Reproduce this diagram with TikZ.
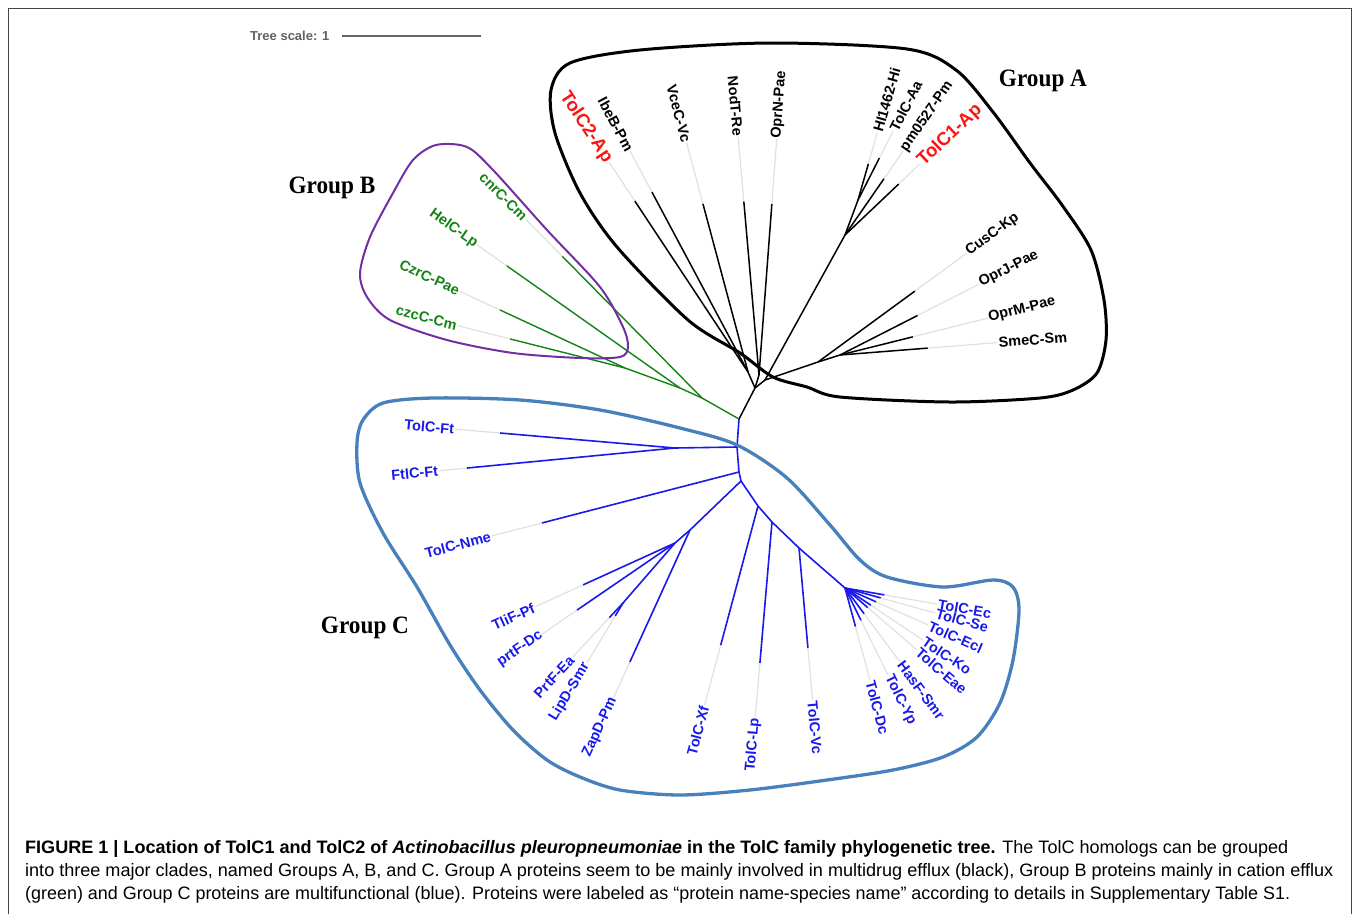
\documentclass[tikz,border=0pt]{standalone}
\usepackage{fontspec}
\setmainfont{Liberation Sans}
\newfontfamily\grpfont{Liberation Serif}
\usetikzlibrary{calc}
\definecolor{bl}{RGB}{25,25,235}
\definecolor{gr}{RGB}{20,130,20}
\definecolor{rd}{RGB}{250,20,20}
\definecolor{pu}{RGB}{115,45,165}
\definecolor{sb}{RGB}{72,128,188}
\definecolor{fr}{RGB}{70,70,70}
\newcommand\leaf[8]{%
  \coordinate (#1-b) at ($(#2)+(#3:#4pt)$);
  \coordinate (#1-t) at ($(#2)+(#3:#5pt)$);
  \draw[ext] (#1-b) -- (#1-t);
  \draw[#6] (#2) -- (#1-b);
  \pgfmathsetmacro\lfang{mod(#3+720,360)}%
  \ifdim\lfang pt>90pt
    \ifdim\lfang pt<270pt
      \pgfmathsetmacro\lfrot{\lfang-180}%
      \node[#7,rotate=\lfrot,anchor=east] (#1) at (#1-t) {#8};
    \else
      \node[#7,rotate=\lfang,anchor=west] (#1) at (#1-t) {#8};
    \fi
  \else
    \node[#7,rotate=\lfang,anchor=west] (#1) at (#1-t) {#8};
  \fi
}
\begin{document}
\begin{tikzpicture}[x=1pt,y=-1pt,
  bk/.style={draw=black,line width=1.5pt},
  bb/.style={draw=bl,line width=1.6pt},
  gb/.style={draw=gr,line width=1.4pt},
  ext/.style={draw=black!12,line width=1.2pt},
  lab/.style={font=\bfseries\fontsize{14.5}{16}\selectfont,inner sep=1pt},
  labk/.style={lab,text=black},
  labb/.style={lab,text=bl},
  labg/.style={lab,text=gr},
  labr/.style={font=\bfseries\fontsize{18.5}{20}\selectfont,inner sep=1pt,text=rd},
  grp/.style={font=\grpfont\bfseries\fontsize{25}{28}\selectfont,inner sep=0pt,anchor=base},
  captxt/.style={font=\fontsize{18}{22}\selectfont,inner sep=0pt,anchor=base west},
  hull/.style={line width=3pt}]
\useasboundingbox (0,0) rectangle (1358,914);
% frame
\draw[fr,line width=1.5pt] (8.5,914) -- (8.5,8.5) -- (1351.5,8.5) -- (1351.5,914);
% tree scale
\node[font=\bfseries\fontsize{13}{15}\selectfont,text=black!62,inner sep=0pt,anchor=west] (ts) at (250,36) {Tree scale: 1};
\coordinate (ts1) at (342,36); \coordinate (ts2) at (481,36);
\draw[draw=black!60,line width=1.4pt] (ts1) -- (ts2);
% internal nodes
\coordinate (R) at (739,419);
\coordinate (A0) at (755,388); \coordinate (P1) at (748,372); \coordinate (P2) at (759,375);
\coordinate (A1) at (765,380); \coordinate (Q) at (845,235); \coordinate (Q2) at (858,200);
\coordinate (S) at (818,362); \coordinate (S2) at (840,355);
\coordinate (B2) at (702,398); \coordinate (B3) at (680,388); \coordinate (B4) at (625,368);
\coordinate (C0) at (737,447); \coordinate (C1) at (675,448); \coordinate (C2) at (739,472);
\coordinate (C3) at (741,481); \coordinate (D0) at (690,530); \coordinate (D1) at (675,543);
\coordinate (D2) at (623,603); \coordinate (F0) at (758,506); \coordinate (F1) at (772,522);
\coordinate (C5) at (799,548); \coordinate (E0) at (845,588);
% internal edges
\draw[bk] (R) -- (A0); \draw[bk] (A0) -- (P1); \draw[bk] (A0) -- (P2); \draw[bk] (A0) -- (A1);
\draw[bk] (A1) -- (Q); \draw[bk] (Q) -- (Q2); \draw[bk] (A1) -- (S); \draw[bk] (S) -- (S2);
\draw[gb] (R) -- (B2); \draw[gb] (B2) -- (B3); \draw[gb] (B3) -- (B4);
\draw[bb] (R) -- (C0); \draw[bb] (C0) -- (C1); \draw[bb] (C0) -- (C2); \draw[bb] (C2) -- (C3);
\draw[bb] (C3) -- (D0); \draw[bb] (D0) -- (D1); \draw[bb] (D1) -- (D2);
\draw[bb] (C3) -- (F0); \draw[bb] (F0) -- (F1); \draw[bb] (F1) -- (C5); \draw[bb] (C5) -- (E0);
% Group A leaves
\leaf{a1}{P1}{123.5}{205}{252}{bk}{labr}{TolC2-Ap}
\leaf{a2}{P1}{118.1}{204}{250}{bk}{labk}{IbeB-Pm}
\leaf{a3}{P1}{105}{174}{237}{bk}{labk}{VceC-Vc}
\leaf{a4}{P2}{95}{174}{239}{bk}{labk}{NodT-Re}
\leaf{a5}{P2}{85.7}{171.5}{236.5}{bk}{labk}{OprN-Pae}
\leaf{a6}{Q2}{74}{37.6}{70}{bk}{labk}{HI1462-Hi}
\leaf{a7}{Q2}{63}{47}{77}{bk}{labk}{TolC-Aa}
\leaf{a8}{Q}{55.3}{68.5}{102}{bk}{labk}{pm0527-Pm}
\leaf{a9}{Q}{43.5}{74}{103}{bk}{labr}{TolC1-Ap}
\leaf{a10}{S}{36.2}{120}{184}{bk}{labk}{CusC-Kp}
\leaf{a11}{S2}{27}{87}{156}{bk}{labk}{OprJ-Pae}
\leaf{a12}{S2}{14}{75}{152}{bk}{labk}{OprM-Pae}
\leaf{a13}{S2}{4.5}{88}{158}{bk}{labk}{SmeC-Sm}
% Group B leaves
\leaf{b1}{B2}{134.6}{199}{251}{gb}{labg}{cnrC-Cm}
\leaf{b2}{B3}{144.8}{212}{248}{gb}{labg}{HelC-Lp}
\leaf{b3}{B4}{155.1}{138}{182}{gb}{labg}{CzrC-Pae}
\leaf{b4}{B4}{165.8}{118.6}{172.6}{gb}{labg}{czcC-Cm}
% Group C leaves
\leaf{c1}{C1}{175.1}{175.6}{220.6}{bb}{labb}{TolC-Ft}
\leaf{c2}{C1}{185.5}{209}{237}{bb}{labb}{FtlC-Ft}
\leaf{c3}{C2}{194.5}{203.5}{255.5}{bb}{labb}{TolC-Nme}
\leaf{c4}{D1}{204.5}{101}{154}{bb}{labb}{TliF-Pf}
\leaf{c5}{D1}{214.4}{118.7}{160.7}{bb}{labb}{prtF-Dc}
\leaf{c6}{D2}{227}{20}{74}{bb}{labb}{PrtF-Ea}
\leaf{c7}{D2}{239}{15}{70}{bb}{labb}{LipD-Smr}
\leaf{c8}{D0}{245.5}{145}{184}{bb}{labb}{ZapD-Pm}
\leaf{c9}{F0}{255}{144}{206}{bb}{labb}{TolC-Xf}
\leaf{c10}{F1}{265.1}{141.5}{195.5}{bb}{labb}{TolC-Lp}
\leaf{c11}{C5}{275.1}{100.4}{152.4}{bb}{labb}{TolC-Vc}
\leaf{c12}{E0}{-9.9}{40}{93.4}{bb}{labb}{TolC-Ec}
\leaf{c13}{E0}{-15.5}{37}{93.4}{bb}{labb}{TolC-Se}
\leaf{c14}{E0}{-24}{34}{91}{bb}{labb}{TolC-Ecl}
\leaf{c15}{E0}{-33.7}{31}{93.7}{bb}{labb}{TolC-Ko}
\leaf{c16}{E0}{-40.7}{30}{95}{bb}{labb}{TolC-Eae}
\leaf{c17}{E0}{-53.4}{32}{92}{bb}{labb}{HasF-Smr}
\leaf{c18}{E0}{-63.7}{36}{97}{bb}{labb}{TolC-Yp}
\leaf{c19}{E0}{-74.8}{40}{95.3}{bb}{labb}{TolC-Dc}
% group hulls
\draw[hull,draw=black] plot[smooth cycle] coordinates {(640,50) (770,43) (907,49) (956,70) (993,112) (1030,163) (1062,205) (1091,250) (1104,300) (1106,340) (1097,373) (1073,390) (1040,398) (950,402) (840,397) (807,387) (773,377) (740,353) (688,320) (617,247) (580,193) (555,133) (551,90) (570,63)};
\draw[line width=2pt,draw=pu] plot[smooth cycle] coordinates {(413,160) (436,145) (467,147) (493,170) (547,230) (600,287) (623,327) (628,347) (620,357) (580,358) (513,353) (447,340) (390,320) (367,297) (360,273) (370,237) (393,193)};
\draw[line width=3.3pt,draw=sb] plot[smooth cycle] coordinates {(363,420) (383,403) (433,398) (520,400) (600,410) (680,428) (737,445) (787,478) (830,525) (860,560) (887,577) (943,587) (993,580) (1013,587) (1019,610) (1013,660) (1000,703) (977,737) (943,757) (893,770) (827,780) (750,790) (680,795) (620,790) (580,777) (547,760) (513,730) (480,690) (450,645) (417,587) (383,533) (360,483) (357,443)};
% group labels
\node[grp] (gA) at (1043,86) {\scalebox{0.93}[1]{Group A}};
\node[grp] (gB) at (332,193) {\scalebox{0.93}[1]{Group B}};
\node[grp] (gC) at (365,633) {\scalebox{0.93}[1]{Group C}};
% caption
\node[captxt] (cap1) at (25,853) {\resizebox{1263pt}{\height}{\textbf{FIGURE 1 | Location of TolC1 and TolC2 of \textit{Actinobacillus pleuropneumoniae} in the TolC family phylogenetic tree.} The TolC homologs can be grouped}};
\node[captxt] (cap2) at (25,876) {\resizebox{1308pt}{\height}{into three major clades, named Groups A, B, and C. Group A proteins seem to be mainly involved in multidrug efflux (black), Group B proteins mainly in cation efflux}};
\node[captxt] (cap3) at (25,899) {\resizebox{1265pt}{\height}{(green) and Group C proteins are multifunctional (blue). Proteins were labeled as “protein name-species name” according to details in Supplementary Table S1.}};
\end{tikzpicture}
\end{document}
